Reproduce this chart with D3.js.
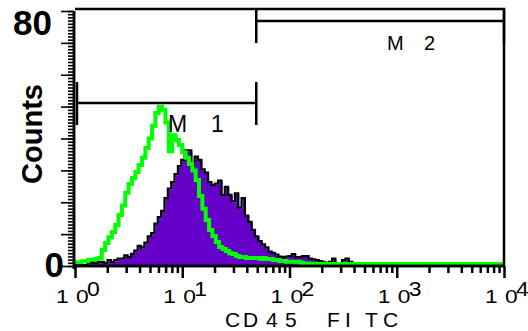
<!DOCTYPE html>
<html>
<head>
<meta charset="utf-8">
<script src="https://cdn.jsdelivr.net/npm/d3@7"></script>
<style>
  body { margin: 0; background: #fff; }
  text { font-family: "Liberation Sans", Arial, sans-serif; }
</style>
</head>
<body>
<div id="chart"></div>
<script>
// 128 channels over 4 log decades (32 per decade)
const purpleCounts = [
  0,0,0,0,0.5,1,0.5,1,
  1,0.5,1.5,1,1.5,2,2,3,
  2.5,3.5,4.5,6,5.5,7,9,10,
  13,15,17,21,24,26,28.5,31,
  33,36,36,31,34,33,30,29,
  26,25,25.5,26.5,22,24.5,22,20,
  22.5,18,21,15.5,13.5,11,9,7.5,
  6.5,5.5,4.2,3.8,3.3,2.6,2.5,2.6,
  2.8,3.4,2.5,2.5,2.8,2.8,2,1.8,
  1.5,1.2,1,0.5,1,2,0.5,0.5,
  1.5,2,1,0,0,0,0,0,
  0,0,0,0,0,0,0,0, 0,0,0,0,0,0,0,0,
  0,0,0,0,0,0,0,0, 0,0,0,0,0,0,0,0,
  0,0,0,0,0,0,0,0
];
const greenCounts = [
  1.2,1.2,1.5,1.5,2,2,2.2,2.5,
  5,7.2,9,10.7,12.9,16,19,23,
  25.7,27.6,29.5,31.7,34,37,40,44,
  48,50,49,45,36,41,39.5,38,
  35.7,34,32,30,27,22,18,14.4,
  11.3,9.4,7.5,6,5.3,4.7,4,3.8,
  3.1,2.8,2.8,2.5,2.5,2.5,2.5,2.2,
  2.5,2.2,2.2,1.9,1.9,1.6,1.6,1.3,
  1.3,1.3,1.3,1,0.8,0.8,0.7,0.7,
  0.6,0.6,0.7,0.6,0.6,0.5,0.6,0.6,
  0.6,0.5,0.6,0.6,0.6,0.6,0.5,0.6,
  0.6,0.6,0.6,0.5,0.6,0.6,0.6,0.6,
  0.5,0.6,0.6,0.6,0.6,0.6,0.5,0.6,
  0.6,0.6,0.6,0.6,0.5,0.6,0.6,0.6,
  0.6,0.6,0.5,0.6,0.6,0.6,0.6,0.6,
  0.6,0.6,0.6,0.6,0.6,0.6,0.6,0.6
];
const channelsPerDecade = 32;

const xMajorTicks = [1, 10, 100, 1000, 10000];
const xExponents = ["0", "1", "2", "3", "4"];
const yTickValues = [0, 80];
const yTickLabels = ["0", "80"];
const markers = [
  {name: "M 1", from: 1, to: 49},
  {name: "M 2", from: 49, to: 10000}
];
const xTitleChars = ["C", "D", "4", "5", "F", "I", "T", "C"];

const W = 528, H = 331;
const svg = d3.select("#chart").append("svg")
  .attr("width", W).attr("height", H);

const x = d3.scaleLog().domain([1, 10000]).range([75, 504]);
const y = d3.scaleLinear().domain([0, 80]).range([266, 11]);

// channel edge value
const edge = i => Math.pow(10, i / channelsPerDecade);
function stepPoints(counts) {
  const pts = counts.map((c, i) => [edge(i), c]);
  pts.push([edge(counts.length), counts[counts.length - 1]]);
  return pts;
}

const area = d3.area()
  .x(d => x(d[0])).y0(y(0)).y1(d => y(d[1]))
  .curve(d3.curveStepAfter);
const line = d3.line()
  .x(d => x(d[0])).y(d => y(d[1]))
  .curve(d3.curveStepAfter);

// filled histogram
svg.append("path")
  .attr("d", area(stepPoints(purpleCounts)))
  .attr("fill", "#6400c8");
svg.append("path")
  .attr("d", line(stepPoints(purpleCounts)))
  .attr("transform", "translate(-1,-1)")
  .attr("fill", "none")
  .attr("stroke", "#000")
  .attr("stroke-width", 2.2);

// overlay histogram
svg.append("path")
  .attr("d", line(stepPoints(greenCounts)))
  .attr("fill", "none")
  .attr("stroke", "#00ff00")
  .attr("stroke-width", 4);

// frame
svg.append("path")
  .attr("d", `M${x(1)},${y(80) - 2}H${x(10000)}V${y(0)}`)
  .attr("fill", "none").attr("stroke", "#000").attr("stroke-width", 2.5);

// x axis
const minorTicks = [];
for (let d = 1; d < 10000; d *= 10) for (let k = 2; k <= 9; k++) minorTicks.push(d * k);
const xAxisMinor = svg.append("g")
  .attr("transform", `translate(0,${y(0)})`)
  .call(d3.axisBottom(x).tickValues(minorTicks).tickSize(7).tickFormat(""));
const xAxisMajor = svg.append("g")
  .attr("transform", `translate(0,${y(0)})`)
  .call(d3.axisBottom(x).tickValues(xMajorTicks).tickSize(12).tickFormat(""));
[xAxisMinor, xAxisMajor].forEach(g => {
  g.select(".domain").attr("stroke-width", 2.5).attr("d", `M${x(1)},0H${x(10000)}`);
  g.selectAll(".tick line").attr("stroke-width", 2.5);
});

xMajorTicks.forEach((v, i) => {
  const px = x(v);
  svg.append("text").attr("transform", `translate(${px - 19},303) scale(1.2,1)`)
    .attr("font-size", 19).text("1");
  svg.append("text").attr("transform", `translate(${px + 1},303) scale(1.2,1)`)
    .attr("font-size", 19).text("0");
  svg.append("text").attr("transform", `translate(${px + 12},296) scale(1.15,1)`)
    .attr("font-size", 20).text(xExponents[i]);
});

// y axis
const yMinor = d3.range(0, 81, 1);
const yAxisMinor = svg.append("g")
  .attr("transform", `translate(${x(1) - 1},0)`)
  .call(d3.axisLeft(y).tickValues(yMinor).tickSize(6).tickFormat(""));
const yAxisMajor = svg.append("g")
  .attr("transform", `translate(${x(1) - 1},0)`)
  .call(d3.axisLeft(y).tickValues(d3.range(0, 81, 10)).tickSize(13).tickFormat(""));
[yAxisMinor, yAxisMajor].forEach(g => {
  g.select(".domain").attr("stroke-width", 2.5).attr("d", `M0,${y(80)}V${y(0) + 3}`);
  g.selectAll(".tick line").attr("stroke-width", 1.6);
});

const yLabelPos = [{dx: 64, dy: 11}, {dx: 52, dy: 24}];
yTickValues.forEach((v, i) => {
  svg.append("text")
    .attr("x", yLabelPos[i].dx).attr("y", y(v) + yLabelPos[i].dy)
    .attr("text-anchor", "end")
    .attr("font-size", 35).attr("font-weight", "bold")
    .text(yTickLabels[i]);
});

// markers
const mY = [103, 21];
const mTop = [82, 10];
const mBottom = [125, 43];
const mTextX = [[168, 211], [387, 424]];
const mTextY = [132, 50];
const mSize = [23, 20];
markers.forEach((m, i) => {
  const g = svg.append("g").attr("stroke", "#000").attr("stroke-width", 2.5);
  const x0 = i === 0 ? x(m.from) + 2 : x(m.from);
  g.append("line").attr("x1", x0).attr("x2", x(m.to)).attr("y1", mY[i]).attr("y2", mY[i]);
  g.append("line").attr("x1", x0).attr("x2", x0).attr("y1", mTop[i]).attr("y2", mBottom[i]);
  g.append("line").attr("x1", x(m.to)).attr("x2", x(m.to)).attr("y1", mTop[i]).attr("y2", mBottom[i]);
  const parts = m.name.split(" ");
  const t = svg.append("text").attr("y", mTextY[i]).attr("font-size", mSize[i]);
  parts.forEach((p, j) => t.append("tspan").attr("x", mTextX[i][j]).text(p));
});

// axis titles
svg.append("text")
  .attr("transform", "translate(42,134) rotate(-90)")
  .attr("text-anchor", "middle")
  .attr("font-size", 29).attr("font-weight", "bold")
  .text("Counts");

const xTitleX = [225, 243, 266, 285, 327, 345, 365, 383];
const xt = svg.append("text").attr("y", 327).attr("font-size", 21);
xTitleChars.forEach((c, i) => xt.append("tspan").attr("x", xTitleX[i]).text(c));
</script>
</body>
</html>
